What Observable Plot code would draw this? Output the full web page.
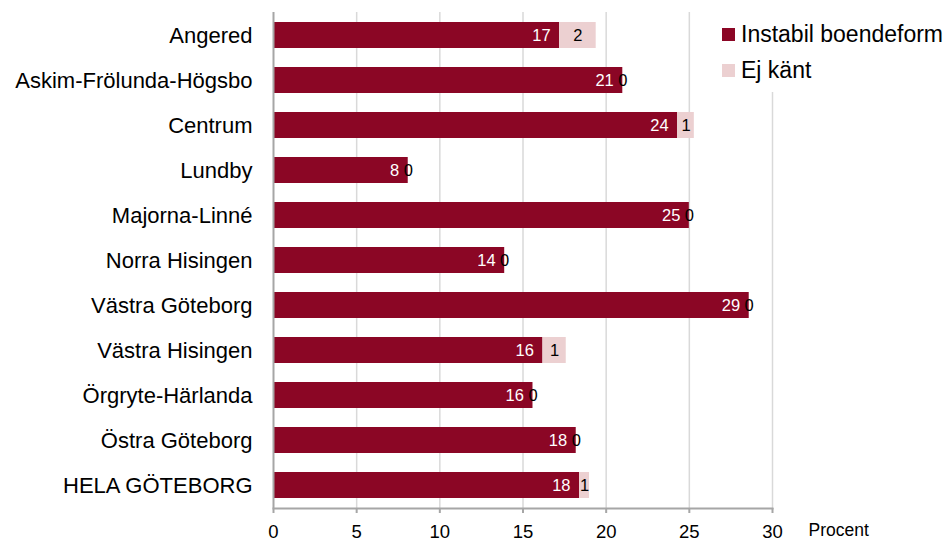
<!DOCTYPE html>
<html>
<head>
<meta charset="utf-8">
<script src="https://cdn.jsdelivr.net/npm/d3@7"></script>
<script src="https://cdn.jsdelivr.net/npm/@observablehq/plot@0.6"></script>
<style>
  body { margin: 0; background: #fff; font-family: "Liberation Sans", Arial, sans-serif; }
  #wrap { position: relative; width: 947px; height: 541px; }
  #legend { position: absolute; left: 712px; top: 12px; background: #fff; padding: 4px 0 4px 10px; width: 230px; }
  .item { display: flex; align-items: center; height: 36px; font-size: 23px; color: #000; white-space: nowrap; }
  .sw { width: 13px; height: 13px; margin-right: 6px; flex: none; }
</style>
</head>
<body>
<div id="wrap"><div id="legend"></div></div>
<script>
const categories = ["Angered", "Askim-Frölunda-Högsbo", "Centrum", "Lundby", "Majorna-Linné", "Norra Hisingen", "Västra Göteborg", "Västra Hisingen", "Örgryte-Härlanda", "Östra Göteborg", "HELA GÖTEBORG"];
const instabil = [17.2, 21.0, 24.3, 8.1, 25.0, 13.9, 28.6, 16.2, 15.6, 18.2, 18.4];
const ejKant = [2.2, 0, 1.0, 0, 0, 0, 0, 1.4, 0, 0, 0.6];
const seriesNames = ["Instabil boendeform", "Ej känt"];
const seriesColors = ["#8b0625", "#ecd0d1"];
const xTicks = [0, 5, 10, 15, 20, 25, 30];
const axisLabel = "Procent";

const rows = [];
categories.forEach((c, i) => {
  rows.push({cat: c, series: seriesNames[0], value: instabil[i], start: 0});
  rows.push({cat: c, series: seriesNames[1], value: ejKant[i], start: instabil[i]});
});
const fmt = d3.format(".0f");

const chart = Plot.plot({
  width: 947,
  height: 541,
  marginLeft: 273,
  marginRight: 175,
  marginTop: 12,
  marginBottom: 33,
  style: {fontFamily: "'Liberation Sans', Arial, sans-serif", background: "#fff"},
  x: {domain: [0, 30], ticks: xTicks},
  y: {domain: categories, paddingInner: 0.42, paddingOuter: 0.2},
  color: {domain: seriesNames, range: seriesColors},
  marks: [
    Plot.ruleX(xTicks.filter(d => d > 0), {stroke: "#d9d9d9", strokeWidth: 1.5}),
    Plot.barX(rows, {y: "cat", x1: "start", x2: d => d.start + d.value, fill: "series"}),
    Plot.ruleX([0], {stroke: "#a6a6a6", strokeWidth: 2}),
    Plot.frame({anchor: "bottom", stroke: "#a6a6a6", strokeWidth: 2}),
    Plot.axisX({ticks: xTicks, tickSize: 5, tickPadding: 11, stroke: "#a6a6a6", strokeWidth: 2, fontSize: 18.5, color: "#000", label: null, tickFormat: d => d}),
    Plot.axisY({tickSize: 0, tickPadding: 21, fontSize: 22, color: "#000", label: null}),
    Plot.text(rows.filter(d => d.series === seriesNames[0]), {y: "cat", x: d => d.start + d.value, text: d => fmt(d.value), textAnchor: "end", dx: -9, fill: "#fff", fontSize: 16.5}),
    Plot.text(rows.filter(d => d.series === seriesNames[1]), {y: "cat", x: d => d.start + d.value / 2, text: d => fmt(d.value), fill: "#000", fontSize: 16.5}),
    Plot.text([axisLabel], {x: 30, frameAnchor: "bottom", textAnchor: "start", dx: 36, dy: 22, lineAnchor: "middle", fontSize: 17.5, fill: "#000"})
  ]
});
const wrap = document.getElementById("wrap");
wrap.insertBefore(chart, wrap.firstChild);
chart.style.position = "absolute"; chart.style.left = "0"; chart.style.top = "0";

const legend = document.getElementById("legend");
seriesNames.forEach((s, i) => {
  const it = document.createElement("div");
  it.className = "item";
  const sw = document.createElement("span");
  sw.className = "sw"; sw.style.background = seriesColors[i];
  it.appendChild(sw);
  it.appendChild(document.createTextNode(s));
  legend.appendChild(it);
});
</script>
</body>
</html>
